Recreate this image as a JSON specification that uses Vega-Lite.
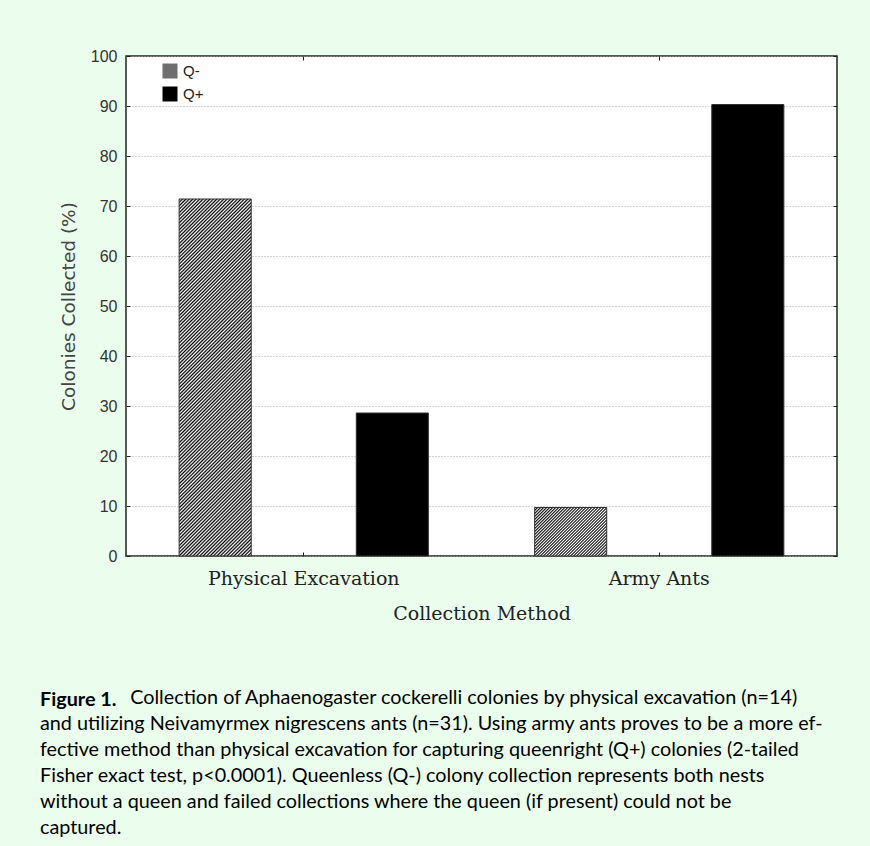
{
  "$schema": "https://vega.github.io/schema/vega-lite/v6.json",
  "autosize": {"type": "none"},
  "width": 711,
  "height": 500,
  "padding": {"left": 126, "top": 56, "right": 33, "bottom": 290},
  "background": "#ebfdec",
  "data": {
    "values": [
      {"method": "Physical Excavation", "queen": "Q-", "percent": 71.4},
      {"method": "Physical Excavation", "queen": "Q+", "percent": 28.6},
      {"method": "Army Ants", "queen": "Q-", "percent": 9.7},
      {"method": "Army Ants", "queen": "Q+", "percent": 90.3}
    ]
  },
  "title": {
    "text": "Figure 1.",
    "subtitle": [
      "\u2800\u2800\u2800\u2800\u2800\u00a0\u00a0 Collection of Aphaenogaster cockerelli colonies by physical excavation (n=14)",
      "and utilizing Neivamyrmex nigrescens ants (n=31). Using army ants proves to be a more ef-",
      "fective method than physical excavation for capturing queenright (Q+) colonies (2-tailed",
      "Fisher exact test, p<0.0001). Queenless (Q-) colony collection represents both nests",
      "without a queen and failed collections where the queen (if present) could not be",
      "captured."
    ],
    "orient": "bottom",
    "anchor": "start",
    "frame": "group",
    "dx": -86,
    "offset": 67,
    "font": "Lato",
    "fontSize": 19.8,
    "fontWeight": "bold",
    "color": "#000",
    "subtitleFont": "Lato",
    "subtitleFontSize": 19.8,
    "subtitleColor": "#000",
    "subtitleLineHeight": 26,
    "subtitlePadding": -22
  },
  "layer": [
    {
      "mark": {"type": "bar", "stroke": "#333", "strokeWidth": 1},
      "encoding": {
        "x": {
          "field": "method",
          "type": "nominal",
          "sort": ["Physical Excavation", "Army Ants"],
          "scale": {"paddingInner": 0, "paddingOuter": 0},
          "axis": {
            "title": "Collection Method",
            "labelAngle": 0,
            "labelLimit": 400,
            "labelFont": "DejaVu Serif",
            "labelFontSize": 19,
            "labelColor": "#222",
            "labelPadding": 17,
            "titleFont": "DejaVu Serif",
            "titleFontSize": 19,
            "titleFontWeight": "normal",
            "titleColor": "#222",
            "titlePadding": 16,
            "domain": false,
            "tickSize": -4,
            "tickColor": "#222"
          }
        },
        "xOffset": {
          "field": "queen",
          "sort": ["Q-", "Q+"],
          "scale": {"paddingInner": 0.593, "paddingOuter": 0.3}
        },
        "y": {
          "field": "percent",
          "type": "quantitative",
          "scale": {"domain": [0, 100]},
          "axis": {
            "title": "Colonies Collected (%)",
            "values": [0, 10, 20, 30, 40, 50, 60, 70, 80, 90, 100],
            "labelFont": "Liberation Sans",
            "labelFontSize": 16,
            "labelColor": "#333",
            "labelPadding": 13,
            "titleFont": "DejaVu Sans",
            "titleFontSize": 18.5,
            "titleFontWeight": "normal",
            "titleColor": "#444",
            "titlePadding": 12,
            "domain": false,
            "tickSize": -4,
            "tickColor": "#222",
            "grid": true,
            "gridColor": "#aaa",
            "gridDash": [1, 2]
          }
        },
        "fill": {
          "field": "queen",
          "type": "nominal",
          "condition": [
            {
              "test": "datum.queen === 'Q-' && datum.percent > 50",
              "value": {
                "gradient": "linear", "x1": 0, "y1": 0, "x2": 0.2329, "y2": 1.1547,
                "stops": [
                  {"offset":0,"color":"#000"},{"offset":0.004,"color":"#fff"},{"offset":0.008,"color":"#000"},{"offset":0.012,"color":"#fff"},{"offset":0.016,"color":"#000"},{"offset":0.02,"color":"#fff"},{"offset":0.024,"color":"#000"},{"offset":0.028,"color":"#fff"},{"offset":0.032,"color":"#000"},{"offset":0.036,"color":"#fff"},{"offset":0.04,"color":"#000"},{"offset":0.044,"color":"#fff"},{"offset":0.048,"color":"#000"},{"offset":0.052,"color":"#fff"},{"offset":0.056,"color":"#000"},{"offset":0.06,"color":"#fff"},{"offset":0.064,"color":"#000"},{"offset":0.068,"color":"#fff"},{"offset":0.072,"color":"#000"},{"offset":0.076,"color":"#fff"},{"offset":0.08,"color":"#000"},{"offset":0.084,"color":"#fff"},{"offset":0.088,"color":"#000"},{"offset":0.092,"color":"#fff"},{"offset":0.096,"color":"#000"},{"offset":0.1,"color":"#fff"},{"offset":0.104,"color":"#000"},{"offset":0.108,"color":"#fff"},{"offset":0.112,"color":"#000"},{"offset":0.116,"color":"#fff"},{"offset":0.12,"color":"#000"},{"offset":0.124,"color":"#fff"},{"offset":0.128,"color":"#000"},{"offset":0.132,"color":"#fff"},{"offset":0.136,"color":"#000"},{"offset":0.14,"color":"#fff"},{"offset":0.144,"color":"#000"},{"offset":0.148,"color":"#fff"},{"offset":0.152,"color":"#000"},{"offset":0.156,"color":"#fff"},{"offset":0.16,"color":"#000"},{"offset":0.164,"color":"#fff"},{"offset":0.168,"color":"#000"},{"offset":0.172,"color":"#fff"},{"offset":0.176,"color":"#000"},{"offset":0.18,"color":"#fff"},{"offset":0.184,"color":"#000"},{"offset":0.188,"color":"#fff"},{"offset":0.192,"color":"#000"},{"offset":0.196,"color":"#fff"},{"offset":0.2,"color":"#000"},
                  {"offset":0.204,"color":"#fff"},{"offset":0.208,"color":"#000"},{"offset":0.212,"color":"#fff"},{"offset":0.216,"color":"#000"},{"offset":0.22,"color":"#fff"},{"offset":0.224,"color":"#000"},{"offset":0.228,"color":"#fff"},{"offset":0.232,"color":"#000"},{"offset":0.236,"color":"#fff"},{"offset":0.24,"color":"#000"},{"offset":0.244,"color":"#fff"},{"offset":0.248,"color":"#000"},{"offset":0.252,"color":"#fff"},{"offset":0.256,"color":"#000"},{"offset":0.26,"color":"#fff"},{"offset":0.264,"color":"#000"},{"offset":0.268,"color":"#fff"},{"offset":0.272,"color":"#000"},{"offset":0.276,"color":"#fff"},{"offset":0.28,"color":"#000"},{"offset":0.284,"color":"#fff"},{"offset":0.288,"color":"#000"},{"offset":0.292,"color":"#fff"},{"offset":0.296,"color":"#000"},{"offset":0.3,"color":"#fff"},{"offset":0.304,"color":"#000"},{"offset":0.308,"color":"#fff"},{"offset":0.312,"color":"#000"},{"offset":0.316,"color":"#fff"},{"offset":0.32,"color":"#000"},{"offset":0.324,"color":"#fff"},{"offset":0.328,"color":"#000"},{"offset":0.332,"color":"#fff"},{"offset":0.336,"color":"#000"},{"offset":0.34,"color":"#fff"},{"offset":0.344,"color":"#000"},{"offset":0.348,"color":"#fff"},{"offset":0.352,"color":"#000"},{"offset":0.356,"color":"#fff"},{"offset":0.36,"color":"#000"},{"offset":0.364,"color":"#fff"},{"offset":0.368,"color":"#000"},{"offset":0.372,"color":"#fff"},{"offset":0.376,"color":"#000"},{"offset":0.38,"color":"#fff"},{"offset":0.384,"color":"#000"},{"offset":0.388,"color":"#fff"},{"offset":0.392,"color":"#000"},{"offset":0.396,"color":"#fff"},{"offset":0.4,"color":"#000"},
                  {"offset":0.404,"color":"#fff"},{"offset":0.408,"color":"#000"},{"offset":0.412,"color":"#fff"},{"offset":0.416,"color":"#000"},{"offset":0.42,"color":"#fff"},{"offset":0.424,"color":"#000"},{"offset":0.428,"color":"#fff"},{"offset":0.432,"color":"#000"},{"offset":0.436,"color":"#fff"},{"offset":0.44,"color":"#000"},{"offset":0.444,"color":"#fff"},{"offset":0.448,"color":"#000"},{"offset":0.452,"color":"#fff"},{"offset":0.456,"color":"#000"},{"offset":0.46,"color":"#fff"},{"offset":0.464,"color":"#000"},{"offset":0.468,"color":"#fff"},{"offset":0.472,"color":"#000"},{"offset":0.476,"color":"#fff"},{"offset":0.48,"color":"#000"},{"offset":0.484,"color":"#fff"},{"offset":0.488,"color":"#000"},{"offset":0.492,"color":"#fff"},{"offset":0.496,"color":"#000"},{"offset":0.5,"color":"#fff"},{"offset":0.504,"color":"#000"},{"offset":0.508,"color":"#fff"},{"offset":0.512,"color":"#000"},{"offset":0.516,"color":"#fff"},{"offset":0.52,"color":"#000"},{"offset":0.524,"color":"#fff"},{"offset":0.528,"color":"#000"},{"offset":0.532,"color":"#fff"},{"offset":0.536,"color":"#000"},{"offset":0.54,"color":"#fff"},{"offset":0.544,"color":"#000"},{"offset":0.548,"color":"#fff"},{"offset":0.552,"color":"#000"},{"offset":0.556,"color":"#fff"},{"offset":0.56,"color":"#000"},{"offset":0.564,"color":"#fff"},{"offset":0.568,"color":"#000"},{"offset":0.572,"color":"#fff"},{"offset":0.576,"color":"#000"},{"offset":0.58,"color":"#fff"},{"offset":0.584,"color":"#000"},{"offset":0.588,"color":"#fff"},{"offset":0.592,"color":"#000"},{"offset":0.596,"color":"#fff"},{"offset":0.6,"color":"#000"},
                  {"offset":0.604,"color":"#fff"},{"offset":0.608,"color":"#000"},{"offset":0.612,"color":"#fff"},{"offset":0.616,"color":"#000"},{"offset":0.62,"color":"#fff"},{"offset":0.624,"color":"#000"},{"offset":0.628,"color":"#fff"},{"offset":0.632,"color":"#000"},{"offset":0.636,"color":"#fff"},{"offset":0.64,"color":"#000"},{"offset":0.644,"color":"#fff"},{"offset":0.648,"color":"#000"},{"offset":0.652,"color":"#fff"},{"offset":0.656,"color":"#000"},{"offset":0.66,"color":"#fff"},{"offset":0.664,"color":"#000"},{"offset":0.668,"color":"#fff"},{"offset":0.672,"color":"#000"},{"offset":0.676,"color":"#fff"},{"offset":0.68,"color":"#000"},{"offset":0.684,"color":"#fff"},{"offset":0.688,"color":"#000"},{"offset":0.692,"color":"#fff"},{"offset":0.696,"color":"#000"},{"offset":0.7,"color":"#fff"},{"offset":0.704,"color":"#000"},{"offset":0.708,"color":"#fff"},{"offset":0.712,"color":"#000"},{"offset":0.716,"color":"#fff"},{"offset":0.72,"color":"#000"},{"offset":0.724,"color":"#fff"},{"offset":0.728,"color":"#000"},{"offset":0.732,"color":"#fff"},{"offset":0.736,"color":"#000"},{"offset":0.74,"color":"#fff"},{"offset":0.744,"color":"#000"},{"offset":0.748,"color":"#fff"},{"offset":0.752,"color":"#000"},{"offset":0.756,"color":"#fff"},{"offset":0.76,"color":"#000"},{"offset":0.764,"color":"#fff"},{"offset":0.768,"color":"#000"},{"offset":0.772,"color":"#fff"},{"offset":0.776,"color":"#000"},{"offset":0.78,"color":"#fff"},{"offset":0.784,"color":"#000"},{"offset":0.788,"color":"#fff"},{"offset":0.792,"color":"#000"},{"offset":0.796,"color":"#fff"},{"offset":0.8,"color":"#000"},
                  {"offset":0.804,"color":"#fff"},{"offset":0.808,"color":"#000"},{"offset":0.812,"color":"#fff"},{"offset":0.816,"color":"#000"},{"offset":0.82,"color":"#fff"},{"offset":0.824,"color":"#000"},{"offset":0.828,"color":"#fff"},{"offset":0.832,"color":"#000"},{"offset":0.836,"color":"#fff"},{"offset":0.84,"color":"#000"},{"offset":0.844,"color":"#fff"},{"offset":0.848,"color":"#000"},{"offset":0.852,"color":"#fff"},{"offset":0.856,"color":"#000"},{"offset":0.86,"color":"#fff"},{"offset":0.864,"color":"#000"},{"offset":0.868,"color":"#fff"},{"offset":0.872,"color":"#000"},{"offset":0.876,"color":"#fff"},{"offset":0.88,"color":"#000"},{"offset":0.884,"color":"#fff"},{"offset":0.888,"color":"#000"},{"offset":0.892,"color":"#fff"},{"offset":0.896,"color":"#000"},{"offset":0.9,"color":"#fff"},{"offset":0.904,"color":"#000"},{"offset":0.908,"color":"#fff"},{"offset":0.912,"color":"#000"},{"offset":0.916,"color":"#fff"},{"offset":0.92,"color":"#000"},{"offset":0.924,"color":"#fff"},{"offset":0.928,"color":"#000"},{"offset":0.932,"color":"#fff"},{"offset":0.936,"color":"#000"},{"offset":0.94,"color":"#fff"},{"offset":0.944,"color":"#000"},{"offset":0.948,"color":"#fff"},{"offset":0.952,"color":"#000"},{"offset":0.956,"color":"#fff"},{"offset":0.96,"color":"#000"},{"offset":0.964,"color":"#fff"},{"offset":0.968,"color":"#000"},{"offset":0.972,"color":"#fff"},{"offset":0.976,"color":"#000"},{"offset":0.98,"color":"#fff"},{"offset":0.984,"color":"#000"},{"offset":0.988,"color":"#fff"},{"offset":0.992,"color":"#000"},{"offset":0.996,"color":"#fff"},{"offset":1,"color":"#000"}
                ]
              }
            },
            {
              "test": "datum.queen === 'Q-'",
              "value": {
                "gradient": "linear", "x1": 0, "y1": 0, "x2": 1.1512, "y2": 0.7755,
                "stops": [
                  {"offset":0,"color":"#000"},{"offset":0.0125,"color":"#fff"},{"offset":0.025,"color":"#000"},{"offset":0.0375,"color":"#fff"},{"offset":0.05,"color":"#000"},{"offset":0.0625,"color":"#fff"},{"offset":0.075,"color":"#000"},{"offset":0.0875,"color":"#fff"},{"offset":0.1,"color":"#000"},{"offset":0.1125,"color":"#fff"},{"offset":0.125,"color":"#000"},{"offset":0.1375,"color":"#fff"},{"offset":0.15,"color":"#000"},{"offset":0.1625,"color":"#fff"},{"offset":0.175,"color":"#000"},{"offset":0.1875,"color":"#fff"},{"offset":0.2,"color":"#000"},{"offset":0.2125,"color":"#fff"},{"offset":0.225,"color":"#000"},{"offset":0.2375,"color":"#fff"},{"offset":0.25,"color":"#000"},{"offset":0.2625,"color":"#fff"},{"offset":0.275,"color":"#000"},{"offset":0.2875,"color":"#fff"},{"offset":0.3,"color":"#000"},{"offset":0.3125,"color":"#fff"},{"offset":0.325,"color":"#000"},{"offset":0.3375,"color":"#fff"},{"offset":0.35,"color":"#000"},{"offset":0.3625,"color":"#fff"},{"offset":0.375,"color":"#000"},{"offset":0.3875,"color":"#fff"},{"offset":0.4,"color":"#000"},{"offset":0.4125,"color":"#fff"},{"offset":0.425,"color":"#000"},{"offset":0.4375,"color":"#fff"},{"offset":0.45,"color":"#000"},{"offset":0.4625,"color":"#fff"},{"offset":0.475,"color":"#000"},{"offset":0.4875,"color":"#fff"},{"offset":0.5,"color":"#000"},{"offset":0.5125,"color":"#fff"},{"offset":0.525,"color":"#000"},{"offset":0.5375,"color":"#fff"},{"offset":0.55,"color":"#000"},{"offset":0.5625,"color":"#fff"},{"offset":0.575,"color":"#000"},{"offset":0.5875,"color":"#fff"},{"offset":0.6,"color":"#000"},{"offset":0.6125,"color":"#fff"},{"offset":0.625,"color":"#000"},{"offset":0.6375,"color":"#fff"},{"offset":0.65,"color":"#000"},{"offset":0.6625,"color":"#fff"},{"offset":0.675,"color":"#000"},{"offset":0.6875,"color":"#fff"},{"offset":0.7,"color":"#000"},{"offset":0.7125,"color":"#fff"},{"offset":0.725,"color":"#000"},{"offset":0.7375,"color":"#fff"},{"offset":0.75,"color":"#000"},{"offset":0.7625,"color":"#fff"},{"offset":0.775,"color":"#000"},{"offset":0.7875,"color":"#fff"},{"offset":0.8,"color":"#000"},{"offset":0.8125,"color":"#fff"},{"offset":0.825,"color":"#000"},{"offset":0.8375,"color":"#fff"},{"offset":0.85,"color":"#000"},{"offset":0.8625,"color":"#fff"},{"offset":0.875,"color":"#000"},{"offset":0.8875,"color":"#fff"},{"offset":0.9,"color":"#000"},{"offset":0.9125,"color":"#fff"},{"offset":0.925,"color":"#000"},{"offset":0.9375,"color":"#fff"},{"offset":0.95,"color":"#000"},{"offset":0.9625,"color":"#fff"},{"offset":0.975,"color":"#000"},{"offset":0.9875,"color":"#fff"},{"offset":1,"color":"#000"}
                ]
              }
            }
          ],
          "scale": {"domain": ["Q-", "Q+"], "range": ["#6e6e6e", "#000000"]},
          "legend": {
            "title": null,
            "orient": "none",
            "legendX": 36,
            "legendY": 7,
            "symbolType": "square",
            "symbolSize": 225,
            "symbolStrokeColor": "#000",
            "symbolStrokeWidth": 1,
            "labelFont": "Liberation Sans",
            "labelFontSize": 15,
            "labelColor": "#222",
            "labelOffset": 5,
            "rowPadding": 3,
            "encode": {
              "symbols": {
                "update": {
                  "fill": {
                    "condition": {
                      "test": "datum.value === 'Q-'",
                      "value": {
                        "gradient": "linear", "x1": 0, "y1": 0, "x2": 1, "y2": 1,
                        "stops": [
                          {"offset":0,"color":"#000"},{"offset":0.05,"color":"#fff"},{"offset":0.1,"color":"#000"},{"offset":0.15,"color":"#fff"},{"offset":0.2,"color":"#000"},{"offset":0.25,"color":"#fff"},{"offset":0.3,"color":"#000"},{"offset":0.35,"color":"#fff"},{"offset":0.4,"color":"#000"},{"offset":0.45,"color":"#fff"},{"offset":0.5,"color":"#000"},{"offset":0.55,"color":"#fff"},{"offset":0.6,"color":"#000"},{"offset":0.65,"color":"#fff"},{"offset":0.7,"color":"#000"},{"offset":0.75,"color":"#fff"},{"offset":0.8,"color":"#000"},{"offset":0.85,"color":"#fff"},{"offset":0.9,"color":"#000"},{"offset":0.95,"color":"#fff"},{"offset":1,"color":"#000"}
                        ]
                      }
                    },
                    "value": "#000000"
                  }
                }
              }
            }
          }
        }
      }
    },
    {
      "mark": {"type": "bar", "opacity": 0},
      "encoding": {
        "x": {
          "field": "method",
          "type": "nominal",
          "sort": ["Physical Excavation", "Army Ants"],
          "axis": {"orient": "top", "title": null, "labels": false, "domain": false, "tickSize": -4, "tickColor": "#222"}
        },
        "xOffset": {"field": "queen", "sort": ["Q-", "Q+"]},
        "y": {
          "field": "percent",
          "type": "quantitative",
          "axis": {"orient": "right", "title": null, "labels": false, "domain": false, "grid": false, "tickSize": -4, "tickColor": "#222", "values": [0, 10, 20, 30, 40, 50, 60, 70, 80, 90, 100]}
        }
      }
    }
  ],
  "resolve": {"axis": {"x": "independent", "y": "independent"}},
  "config": {
    "view": {"fill": "white", "stroke": "#222", "strokeWidth": 1.5}
  }
}
